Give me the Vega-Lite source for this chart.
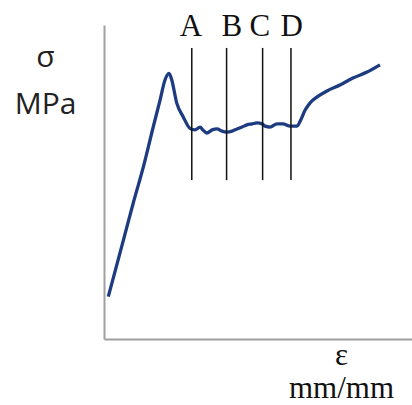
{
  "$schema": "https://vega.github.io/schema/vega-lite/v6.json",
  "width": 308,
  "height": 314,
  "autosize": {"type": "none"},
  "padding": {"left": 104, "top": 25, "right": 0, "bottom": 66},
  "background": "white",
  "config": {"view": {"stroke": null}},
  "datasets": {
    "curve": [
      {"strain": 1.4, "stress": 13.5},
      {"strain": 6.3, "stress": 31.5},
      {"strain": 9.5, "stress": 43.3},
      {"strain": 12.8, "stress": 54.9},
      {"strain": 16.0, "stress": 67.6},
      {"strain": 18.2, "stress": 76.1},
      {"strain": 19.8, "stress": 82.5},
      {"strain": 21.1, "stress": 84.6},
      {"strain": 22.0, "stress": 82.5},
      {"strain": 23.6, "stress": 75.2},
      {"strain": 25.7, "stress": 70.8},
      {"strain": 27.9, "stress": 67.1},
      {"strain": 29.5, "stress": 66.6},
      {"strain": 31.2, "stress": 67.5},
      {"strain": 32.1, "stress": 66.6},
      {"strain": 33.4, "stress": 65.6},
      {"strain": 35.1, "stress": 66.6},
      {"strain": 36.7, "stress": 66.9},
      {"strain": 38.3, "stress": 66.2},
      {"strain": 39.9, "stress": 65.9},
      {"strain": 41.6, "stress": 66.2},
      {"strain": 43.2, "stress": 66.9},
      {"strain": 44.8, "stress": 67.5},
      {"strain": 46.4, "stress": 68.2},
      {"strain": 48.1, "stress": 68.5},
      {"strain": 49.7, "stress": 68.8},
      {"strain": 51.3, "stress": 68.5},
      {"strain": 52.3, "stress": 67.8},
      {"strain": 53.9, "stress": 67.5},
      {"strain": 56.2, "stress": 68.5},
      {"strain": 58.1, "stress": 68.5},
      {"strain": 60.4, "stress": 67.8},
      {"strain": 62.7, "stress": 67.8},
      {"strain": 63.8, "stress": 69.6},
      {"strain": 65.3, "stress": 72.9},
      {"strain": 67.0, "stress": 75.3},
      {"strain": 69.2, "stress": 77.1},
      {"strain": 72.4, "stress": 79.0},
      {"strain": 76.6, "stress": 80.9},
      {"strain": 80.8, "stress": 83.1},
      {"strain": 85.4, "stress": 85.0},
      {"strain": 89.6, "stress": 87.3}
    ],
    "marks": [
      {"label": "A", "strain": 28.5, "labelStrain": 28.2, "low": 50.6, "high": 92.7, "labelStress": 96.5},
      {"label": "B", "strain": 39.8, "labelStrain": 41.5, "low": 50.6, "high": 92.7, "labelStress": 96.5},
      {"label": "C", "strain": 51.5, "labelStrain": 50.6, "low": 50.6, "high": 92.7, "labelStress": 96.5},
      {"label": "D", "strain": 60.7, "labelStrain": 60.9, "low": 50.6, "high": 92.7, "labelStress": 96.5}
    ]
  },
  "layer": [
    {
      "data": {"name": "curve"},
      "mark": {"type": "line", "color": "#1d3b80", "strokeWidth": 3.3, "interpolate": "monotone", "clip": false},
      "encoding": {
        "x": {
          "field": "strain", "type": "quantitative",
          "scale": {"domain": [0, 100], "nice": false},
          "axis": {
            "ticks": false, "labels": false, "grid": false,
            "domainColor": "#a0a0a0", "domainWidth": 2,
            "title": ["ε", "mm/mm"],
            "titleFont": "Liberation Serif", "titleFontSize": 31, "titleFontWeight": "normal",
            "titleColor": "#111111", "titleAngle": 0, "titleAlign": "center",
            "titleBaseline": "alphabetic", "titleLineHeight": 33,
            "titleX": 237, "titleY": 25
          }
        },
        "y": {
          "field": "stress", "type": "quantitative",
          "scale": {"domain": [0, 100], "nice": false},
          "axis": {
            "ticks": false, "labels": false, "grid": false,
            "domainColor": "#a0a0a0", "domainWidth": 2,
            "title": ["σ", "MPa"],
            "titleFont": "Open Sans", "titleFontSize": 30, "titleFontWeight": "normal",
            "titleColor": "#222222", "titleAngle": 0, "titleAlign": "center",
            "titleBaseline": "alphabetic", "titleLineHeight": 47,
            "titleX": -59, "titleY": 41
          }
        }
      }
    },
    {
      "data": {"name": "marks"},
      "mark": {"type": "rule", "color": "#111111", "strokeWidth": 1.5},
      "encoding": {
        "x": {"field": "strain", "type": "quantitative"},
        "y": {"field": "low", "type": "quantitative"},
        "y2": {"field": "high"}
      }
    },
    {
      "data": {"name": "marks"},
      "mark": {"type": "text", "font": "Liberation Serif", "fontSize": 31, "color": "#111111", "baseline": "alphabetic", "align": "center"},
      "encoding": {
        "x": {"field": "labelStrain", "type": "quantitative"},
        "y": {"field": "labelStress", "type": "quantitative"},
        "text": {"field": "label"}
      }
    }
  ]
}
